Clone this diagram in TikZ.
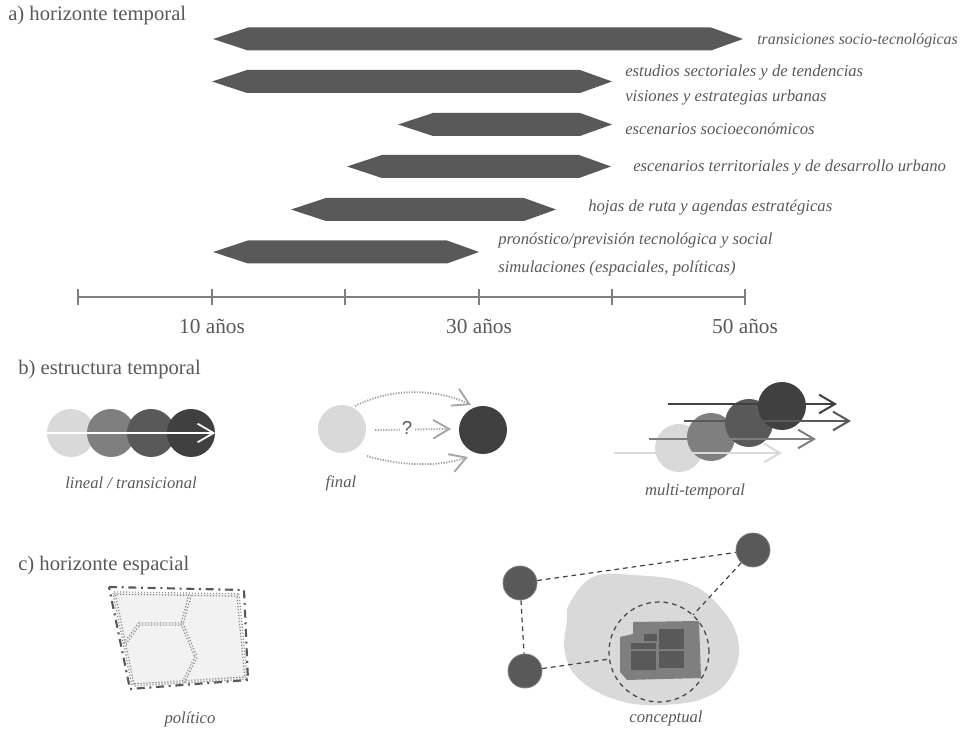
\documentclass[tikz,border=0pt]{standalone}
\usepackage{fontspec}
\setmainfont{Liberation Serif}
\newfontfamily\qfont{Liberation Sans}
\usetikzlibrary{arrows.meta}
\definecolor{txt}{HTML}{595959}
\definecolor{cA}{HTML}{D9D9D9}
\definecolor{cB}{HTML}{7F7F7F}
\definecolor{cC}{HTML}{595959}
\definecolor{cD}{HTML}{404040}
\definecolor{dotc}{HTML}{A6A6A6}
\definecolor{polyf}{HTML}{F2F2F2}
\newcommand\hexbar[3]{\fill[barf] (#2,#1) -- ({#2+35},{#1-11.5}) -- ({#3-32},{#1-11.5}) -- (#3,#1) -- ({#3-32},{#1+11.5}) -- ({#2+35},{#1+11.5}) -- cycle;}
\begin{document}
\begin{tikzpicture}[x=0.75pt,y=-0.75pt,
  lab/.style={text=txt, font=\fontsize{12.5}{14}\selectfont\itshape, inner sep=0pt},
  ttl/.style={text=txt, font=\fontsize{15.5}{18}\selectfont, inner sep=0pt, anchor=west},
  axl/.style={text=txt, font=\fontsize{16}{18}\selectfont, inner sep=0pt},
  barf/.style={fill=cC},
  ball/.style={circle, minimum size=36pt, inner sep=0pt},
  tipA/.style={-{Straight Barb[length=12pt,width=14pt]}},
  mline/.style={line width=1.5pt, tipA},
  dotarr/.style={draw=dotc, line width=1.4pt, dash pattern=on 1pt off 1pt, tipA},
  cball/.style={circle, minimum size=25.5pt, inner sep=0pt, fill=cC, draw=cB, line width=0.6pt},
  cdash/.style={draw=cD, line width=0.9pt, dash pattern=on 3.5pt off 3pt},
  dbl/.style={draw=cB, line width=0.85pt, double=polyf, double distance=0.9pt, dash pattern=on 0.85pt off 1.4pt, line join=round}
]
\useasboundingbox (0,0) rectangle (965,730);

% ---------- a) horizonte temporal
\node[ttl] (ta) at (8,16) {a) horizonte temporal};
\hexbar{39}{213}{743}
\hexbar{81.5}{212}{612}
\hexbar{124.5}{398}{612}
\hexbar{166.5}{347}{611}
\hexbar{209.5}{291}{556}
\hexbar{252}{213}{479}
\node[lab, anchor=west, font=\fontsize{11.9}{14}\selectfont\itshape] (l1) at (757,41) {transiciones socio-tecnológicas};
\node[lab, anchor=west] (l2) at (625,73) {estudios sectoriales y de tendencias};
\node[lab, anchor=west] (l3) at (625,98) {visiones y estrategias urbanas};
\node[lab, anchor=west] (l4) at (625,129) {escenarios socioeconómicos};
\node[lab, anchor=west] (l5) at (633,168) {escenarios territoriales y de desarrollo urbano};
\node[lab, anchor=west] (l6) at (588,208) {hojas de ruta y agendas estratégicas};
\node[lab, anchor=west] (l7) at (498,241) {pronóstico/previsión tecnológica y social};
\node[lab, anchor=west] (l8) at (498,268) {simulaciones (espaciales, políticas)};

% axis
\coordinate (ax0) at (78,297);
\coordinate (ax1) at (745,297);
\draw[cB, line width=1.5pt] (ax0) -- (ax1);
\foreach \xx in {78,212,345,479,612,745}
  \draw[cB, line width=1.2pt] (\xx,289) -- (\xx,305);
\node[axl] (y10) at (212,326) {10 años};
\node[axl] (y30) at (479,326) {30 años};
\node[axl] (y50) at (745,326) {50 años};

% ---------- b) estructura temporal
\node[ttl] (tb) at (18,370) {b) estructura temporal};
\node[ball, fill=cA] (s1) at (71,433) {};
\node[ball, fill=cB] (s2) at (111,433) {};
\node[ball, fill=cC] (s3) at (151,433) {};
\node[ball, fill=cD] (s4) at (191,433) {};
\draw[white, line width=1.3pt, tipA] (s1.west) -- (s4.east);
\node[lab] (lin) at (131,483) {lineal / transicional};

\node[ball, fill=cA] (f1) at (342,429) {};
\node[ball, fill=cD] (f2) at (483,430) {};
\coordinate (fa0) at (355,406);
\coordinate (fa1) at (471,405);
\coordinate (fm0) at (375,430);
\coordinate (fm1) at (451,429);
\coordinate (fb0) at (367,456);
\coordinate (fb1) at (468,457);
\draw[dotarr] (fa0) .. controls (395,386) and (440,390) .. (fa1);
\draw[dotarr] (fm0) -- (fm1);
\node[fill=white, inner sep=1pt, text=txt, font=\qfont\fontsize{14}{16}\selectfont] (q) at (407,428) {?};
\draw[dotarr] (fb0) .. controls (400,466) and (440,467) .. (fb1);
\node[lab] (fin) at (341,483) {final};

\node[ball, fill=cA] (m1) at (679,448) {};
\node[ball, fill=cB] (m2) at (711,437) {};
\node[ball, fill=cC] (m3) at (749,423) {};
\node[ball, fill=cD] (m4) at (782,406) {};
\coordinate (ma0) at (614,453); \coordinate (ma1) at (782,453);
\coordinate (mb0) at (649,439); \coordinate (mb1) at (816,439);
\coordinate (mc0) at (684,421); \coordinate (mc1) at (851,421);
\coordinate (md0) at (668,404); \coordinate (md1) at (837,404);
\draw[mline, cA] (ma0) -- (ma1);
\draw[mline, cB] (mb0) -- (mb1);
\draw[mline, cC] (mc0) -- (mc1);
\draw[mline, cD] (md0) -- (md1);
\node[lab] (mul) at (695,491) {multi-temporal};

% ---------- c) horizonte espacial
\node[ttl] (tc) at (18,566) {c) horizonte espacial};
\fill[polyf] (114,593) -- (238,595) -- (246,678) -- (133,685) -- cycle;
\draw[dbl] (114,593) -- (238,595) -- (246,678) -- (133,685) -- cycle;
\draw[dbl] (190,595) -- (182,624) -- (196,657) -- (183,683);
\draw[dbl] (182,624) -- (139,624) -- (124,645);
\draw[cC, line width=1.6pt, dash pattern=on 6pt off 3.5pt on 1.5pt off 3.5pt] (109,587) -- (244,590) -- (248,680) -- (130,689) -- cycle;
\node[lab] (pol) at (190,719) {político};

\fill[cA] plot[smooth cycle, tension=0.7] coordinates {(570,603) (593,577) (633,575) (687,583) (720,607) (738,640) (733,673) (707,697) (660,705) (617,700) (580,680) (565,653) (567,620)};
\fill[cB] (633,622) -- (699,621) -- (701,678) -- (627,680) -- (620,672) -- (620,637) -- (633,634) -- cycle;
\fill[cC] (659,629) rectangle (684,649);
\fill[cC] (659,651) rectangle (684,668);
\fill[cC] (631,651) rectangle (656,670);
\fill[cC] (631,643) rectangle (656,649);
\fill[cC] (644,634) rectangle (657,641);
\node[circle, cdash, minimum size=75pt, inner sep=0pt] (ring) at (659,652) {};
\node[cball] (na) at (520,583) {};
\node[cball] (nb) at (753,550) {};
\node[cball] (nc) at (525,671) {};
\draw[cdash] (na) -- (nb);
\draw[cdash] (na) -- (nc);
\draw[cdash] (nc) -- (ring);
\draw[cdash] (nb) -- (ring);
\node[lab] (con) at (666,718) {conceptual};
\end{tikzpicture}
\end{document}
